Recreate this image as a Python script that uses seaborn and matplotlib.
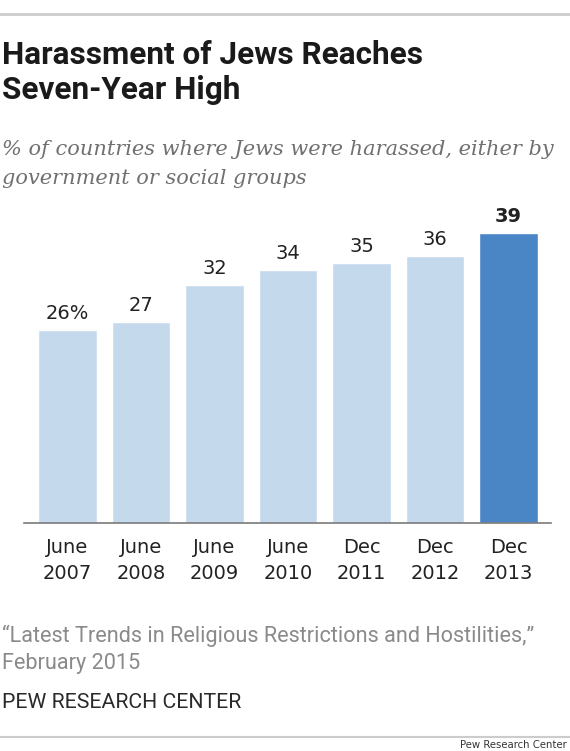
import matplotlib
matplotlib.use("Agg")
import matplotlib.pyplot as plt
from matplotlib import font_manager
from matplotlib.lines import Line2D
import seaborn as sns
import pandas as pd

# ── DATA ──────────────────────────────────────────────────
PERIODS = ["June\n2007", "June\n2008", "June\n2009", "June\n2010",
           "Dec\n2011", "Dec\n2012", "Dec\n2013"]
VALUES = [26, 27, 32, 34, 35, 36, 39]
VALUE_LABELS = ["26%", "27", "32", "34", "35", "36", "39"]

TITLE = ["Harassment of Jews Reaches", "Seven-Year High"]
SUBTITLE = ["% of countries where Jews were harassed, either by",
            "government or social groups"]
SOURCE = ["\u201cLatest Trends in Religious Restrictions and Hostilities,\u201d",
          "February 2015"]

LIGHT = "#C5D9ED"
DARK = "#4A86C6"
# ─────────────────────────────────────────────────────────

W, H = 570, 751
installed = {f.name for f in font_manager.fontManager.ttflist}
NARROW = "Liberation Sans Narrow" if "Liberation Sans Narrow" in installed else "Roboto"


def fy(px):
    """pixel row from top -> figure fraction"""
    return 1 - px / H


sns.set_style("white")
plt.rcParams["font.family"] = ["DejaVu Sans"]

fig = plt.figure(figsize=(W / 100, H / 100), dpi=100)
ax = fig.add_axes([24 / W, fy(523), 527 / W, (523 - 200) / H])

df = pd.DataFrame({"period": PERIODS, "value": VALUES})
colours = [LIGHT] * (len(VALUES) - 1) + [DARK]
sns.barplot(data=df, x="period", y="value", hue="period", palette=colours,
            legend=False, width=0.8, saturation=1, ax=ax)

ax.set_xlim(-0.592, len(VALUES) - 1 + 0.578)
ax.set_ylim(0, 323 / 7.43)
ax.set_xlabel("")
ax.set_ylabel("")
ax.set_yticks([])
for s in ["top", "left", "right"]:
    ax.spines[s].set_visible(False)
ax.spines["bottom"].set_color("#7a7a7a")
ax.spines["bottom"].set_linewidth(1.2)
ax.tick_params(axis="x", length=0, pad=11, labelsize=14, colors="#222222")
for t in ax.get_xticklabels():
    t.set_linespacing(1.45)

for i, bars in enumerate(ax.containers):
    txts = ax.bar_label(bars, labels=[VALUE_LABELS[i]], padding=5,
                        fontsize=14, color="#222222")
    if i == len(VALUES) - 1:
        txts[0].set_fontweight("bold")

# header
fig.add_artist(Line2D([0, 1], [fy(14), fy(14)], transform=fig.transFigure,
                      color="#cccccc", lw=2))
for line, y in zip(TITLE, [64, 99]):
    fig.text(0.004, fy(y), line, family=[NARROW, "DejaVu Sans"],
             fontweight="bold", fontsize=22.7, color="#1a1a1a", va="baseline")
for line, y in zip(SUBTITLE, [155, 184]):
    fig.text(0.004, fy(y), line, family=["DejaVu Serif"], style="italic",
             fontsize=15, color="#707070", va="baseline")

# footer
for line, y in zip(SOURCE, [642, 669]):
    fig.text(0.004, fy(y), line, family=[NARROW, "DejaVu Sans"],
             fontsize=15.6, color="#8a8a8a", va="baseline")
fig.text(0.004, fy(708), "PEW RESEARCH CENTER", family=[NARROW, "DejaVu Sans"],
         fontsize=15.3, color="#2a2a2a", va="baseline")
fig.add_artist(Line2D([0, 1], [fy(737), fy(737)], transform=fig.transFigure,
                      color="#cccccc", lw=1.5))
fig.text(567 / W, fy(748), "Pew Research Center", fontsize=7.3,
         color="#333333", ha="right", va="baseline")

fig.savefig("out.png", dpi=100, facecolor="white")
